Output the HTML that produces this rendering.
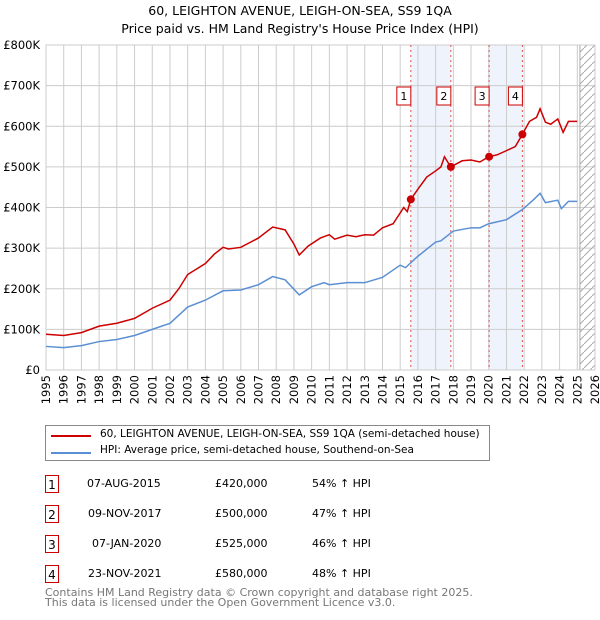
<!DOCTYPE html>
<html><head><meta charset="utf-8"><style>
body{margin:0;background:#fff;font-family:"DejaVu Sans","Liberation Sans",sans-serif;}
#wrap{position:relative;width:600px;height:620px;overflow:hidden;}
.t{position:absolute;font-size:12px;color:#000;white-space:nowrap;}
.box{position:absolute;width:14px;height:18px;border:1px solid #c00;font-size:12px;text-align:center;line-height:18px;box-sizing:border-box;background:#fff;}
</style></head><body><div id="wrap">
<div class="t" style="left:0;width:600px;text-align:center;top:3px;font-size:12.5px">60, LEIGHTON AVENUE, LEIGH-ON-SEA, SS9 1QA</div>
<div class="t" style="left:0;width:600px;text-align:center;top:21px;font-size:12.5px">Price paid vs. HM Land Registry's House Price Index (HPI)</div>
<svg id="chart" width="600" height="420" style="position:absolute;left:0;top:0"></svg>
<div style="position:absolute;left:45px;top:425px;width:445px;height:36px;border:1px solid #888;box-sizing:border-box">
 <div><div style="position:absolute;left:5px;top:9px;width:40px;height:2px;background:#c00"></div><div class="t" style="left:54px;top:2px;font-size:10.5px">60, LEIGHTON AVENUE, LEIGH-ON-SEA, SS9 1QA (semi-detached house)</div></div>
 <div><div style="position:absolute;left:5px;top:26px;width:40px;height:2px;background:#5b8fd4"></div><div class="t" style="left:54px;top:18px;font-size:10.5px">HPI: Average price, semi-detached house, Southend-on-Sea</div></div>
</div>
<div>
<div><div class="box" style="left:45px;top:475px">1</div><div class="t" style="left:87px;top:477px;font-size:11px">07-AUG-2015</div><div class="t" style="left:215px;top:477px;font-size:11px">£420,000</div><div class="t" style="left:312px;top:477px;font-size:11px">54% ↑ HPI</div></div>
<div><div class="box" style="left:45px;top:505px">2</div><div class="t" style="left:88px;top:507px;font-size:11px">09-NOV-2017</div><div class="t" style="left:215px;top:507px;font-size:11px">£500,000</div><div class="t" style="left:312px;top:507px;font-size:11px">47% ↑ HPI</div></div>
<div><div class="box" style="left:45px;top:535px">3</div><div class="t" style="left:92px;top:537px;font-size:11px">07-JAN-2020</div><div class="t" style="left:215px;top:537px;font-size:11px">£525,000</div><div class="t" style="left:312px;top:537px;font-size:11px">46% ↑ HPI</div></div>
<div><div class="box" style="left:45px;top:565px">4</div><div class="t" style="left:88px;top:567px;font-size:11px">23-NOV-2021</div><div class="t" style="left:215px;top:567px;font-size:11px">£580,000</div><div class="t" style="left:312px;top:567px;font-size:11px">48% ↑ HPI</div></div>
</div>
<div class="t" style="left:45px;top:588px;font-size:11px;color:#777;line-height:10px">Contains HM Land Registry data © Crown copyright and database right 2025.<br>This data is licensed under the Open Government Licence v3.0.</div>
</div>
<script>
const redYears=[1995,1996,1997,1998,1999,2000,2001,2002,2002.5,2003,2004,2004.5,2005,2005.3,2006,2007,2007.8,2008.5,2009,2009.3,2009.8,2010.5,2011,2011.3,2012,2012.5,2013,2013.5,2014,2014.6,2015.2,2015.4,2015.6,2016,2016.5,2017,2017.3,2017.5,2017.85,2018.5,2019,2019.5,2020,2020.5,2021,2021.5,2021.9,2022.3,2022.7,2022.9,2023.2,2023.5,2023.9,2024.2,2024.5,2025];
const redValues=[88,85,92,108,115,127,152,172,200,235,262,285,302,298,302,325,352,345,310,283,305,325,333,322,332,328,333,332,350,360,400,390,420,445,475,490,500,525,500,515,517,512,525,530,540,550,580,612,622,643,610,605,618,585,612,612];
const hpiYears=[1995,1996,1997,1998,1999,2000,2001,2002,2003,2004,2005,2006,2007,2007.8,2008.5,2009.3,2010,2010.7,2011,2012,2013,2014,2015,2015.3,2016,2017,2017.3,2018,2019,2019.5,2020,2021,2021.9,2022.5,2022.9,2023.2,2023.9,2024.1,2024.5,2025];
const hpiValues=[58,55,60,70,75,85,100,115,155,172,195,197,210,230,222,185,205,215,210,215,215,228,258,252,280,315,318,342,350,350,360,370,395,418,435,412,418,397,415,415];
const saleYears=[2015.6,2017.86,2020.02,2021.9];
const saleValues=[420,500,525,580];
const saleLabels=["1","2","3","4"];
const bands=[[2015.6,2017.86],[2020.02,2021.9]];
const yTicks=[0,100,200,300,400,500,600,700,800];
const yTickLabels=["£0","£100K","£200K","£300K","£400K","£500K","£600K","£700K","£800K"];
const xTicks=[];for(let y=1995;y<=2026;y++)xTicks.push(y);
const X0=46,X1=595,Y0=370,Y1=45,xmin=1995,xmax=2026,ymax=800;
const x=v=>X0+(v-xmin)/(xmax-xmin)*(X1-X0);
const y=v=>Y0-v/ymax*(Y0-Y1);
const svg=document.getElementById('chart');const NS='http://www.w3.org/2000/svg';
function mk(t,a,p){const e=document.createElementNS(NS,t);for(const k in a)e.setAttribute(k,a[k]);(p||svg).appendChild(e);return e;}
bands.forEach(b=>{const r=mk('rect',{x:x(b[0]),y:Y1,width:x(b[1])-x(b[0]),height:Y0-Y1,fill:'#eef3fc'});

});
xTicks.forEach(t=>{const l=mk('line',{x1:x(t),x2:x(t),y1:Y1,y2:Y0,stroke:'#ccc','stroke-width':1});


const tx=mk('text',{x:0,y:0,'font-size':11.5,'text-anchor':'end',transform:`translate(${x(t)+4},${Y0+5}) rotate(-90)`,'font-family':'DejaVu Sans, sans-serif'});tx.textContent=t;

});
yTicks.forEach((t,i)=>{const l=mk('line',{x1:X0,x2:X1,y1:y(t),y2:y(t),stroke:'#ccc','stroke-width':1});


const tx=mk('text',{x:X0-6,y:y(t)+4,'font-size':11.5,'text-anchor':'end','font-family':'DejaVu Sans, sans-serif'});tx.textContent=yTickLabels[i];

});
const defs=mk('defs',{});const pat=mk('pattern',{id:'hatch',width:8,height:8,patternUnits:'userSpaceOnUse'},defs);mk('path',{d:'M0,8 L8,0',stroke:'#aaa','stroke-width':1},pat);
const h=mk('rect',{x:x(2025.15),y:Y1,width:X1-x(2025.15),height:Y0-Y1,fill:'url(#hatch)',stroke:'#aaa'});


const fr=mk('rect',{x:X0,y:Y1,width:X1-X0,height:Y0-Y1,fill:'none',stroke:'#ccc'});


saleYears.forEach((s,i)=>{const l=mk('line',{x1:x(s),x2:x(s),y1:Y1,y2:Y0,stroke:'#e05050','stroke-dasharray':'2,3','stroke-width':1});


const g=mk('g',{});


mk('rect',{x:x(s)-14,y:87,width:14,height:18,fill:'#fff',stroke:'#c00'},g);
const tx=mk('text',{x:x(s)-7,y:100,'font-size':11,'text-anchor':'middle','font-family':'DejaVu Sans, sans-serif'},g);tx.textContent=saleLabels[i];});
const hp=mk('polyline',{points:hpiYears.map((v,i)=>x(v)+','+y(hpiValues[i])).join(' '),fill:'none',stroke:'#5b8fd4','stroke-width':1.5});


const rp=mk('polyline',{points:redYears.map((v,i)=>x(v)+','+y(redValues[i])).join(' '),fill:'none',stroke:'#c00','stroke-width':1.5});


saleYears.forEach((s,i)=>{const c=mk('circle',{cx:x(s),cy:y(saleValues[i]),r:4,fill:'#c00'});

});
</script></body></html>
